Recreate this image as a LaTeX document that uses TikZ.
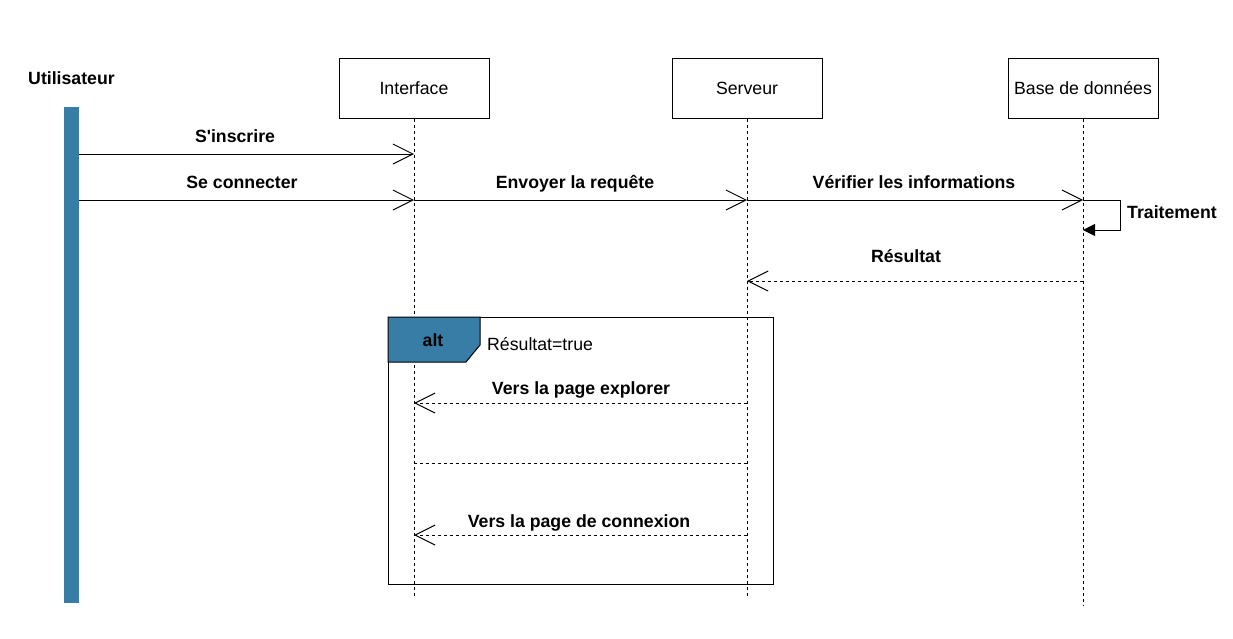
\documentclass[tikz,border=0pt]{standalone}
\usepackage{fontspec}
\setmainfont{Liberation Sans}[Ligatures=TeXOff]
\usetikzlibrary{arrows.meta}
\definecolor{actblue}{RGB}{55,125,165}
\begin{document}
\begin{tikzpicture}[x=1pt,y=-1pt,
  lbl/.style={font=\fontsize{17.7}{20}\selectfont\bfseries, inner sep=0pt, anchor=base},
  txt/.style={font=\fontsize{17.7}{20}\selectfont, inner sep=0pt},
  head/.style={draw, line width=1pt, minimum width=150pt, minimum height=60pt, inner sep=0pt, font=\fontsize{17.7}{20}\selectfont},
  life/.style={line width=1pt, dash pattern=on 3pt off 3pt},
  msg/.style={line width=1pt, -{Straight Barb[length=20pt,width=20pt]}},
  ret/.style={msg, dash pattern=on 3pt off 3pt}]
\useasboundingbox (0,0) rectangle (1233,638);
% actor
\node[lbl] (ulabel) at (71.5,84.5) {Utilisateur};
\node[fill=actblue, minimum width=15pt, minimum height=496pt, inner sep=0pt] (user) at (71.5,355) {};
% heads
\node[head] (int) at (414,88) {Interface};
\node[head] (srv) at (747,88) {Serveur};
\node[head] (db) at (1083,88) {Base de données};
\coordinate (intend) at (414,598);
\coordinate (srvend) at (747,598);
\coordinate (dbend) at (1083,605);
\draw[life] (int.south) -- (intend);
\draw[life] (srv.south) -- (srvend);
\draw[life] (db.south) -- (dbend);
% message points
\coordinate (u1) at (79,154);
\coordinate (i1) at (414,154);
\coordinate (u2) at (79,200);
\coordinate (i2) at (414,200);
\coordinate (s2) at (747,200);
\coordinate (d2) at (1083,200);
\coordinate (l1) at (1120,200);
\coordinate (l2) at (1120,230);
\coordinate (d3) at (1083,230);
\coordinate (d4) at (1083,281);
\coordinate (s4) at (747,281);
\coordinate (s5) at (747,403);
\coordinate (i5) at (414,403);
\coordinate (s6) at (747,463);
\coordinate (i6) at (414,463);
\coordinate (s7) at (747,535);
\coordinate (i7) at (414,535);
% messages
\draw[msg] (u1) -- (i1);
\node[lbl] (m1) at (235,142.5) {S'inscrire};
\draw[msg] (u2) -- (i2);
\node[lbl] (m2) at (242,188.5) {Se connecter};
\draw[msg] (i2) -- (s2);
\node[lbl] (m3) at (575,188.5) {Envoyer la requête};
\draw[msg] (s2) -- (d2);
\node[lbl] (m4) at (914,188.5) {Vérifier les informations};
\draw[line width=1pt, -{Triangle[length=12pt,width=12pt]}] (d2) -- (l1) -- (l2) -- (d3);
\node[lbl, anchor=base west] (m5) at (1127,218.5) {Traitement};
\draw[ret] (d4) -- (s4);
\node[lbl] (m6) at (906,262.5) {Résultat};
% alt frame
\draw[line width=1pt] (388,317) rectangle (773,584);
\filldraw[line width=1pt, fill=actblue] (388,317) -- (480,317) -- (480,345) -- (466,362) -- (388,362) -- cycle;
\node[lbl] (alt) at (433,346.5) {alt};
\node[txt, anchor=base west] (cond) at (487,350.5) {Résultat=true};
\draw[ret] (s5) -- (i5);
\node[lbl] (m7) at (581,394.5) {Vers la page explorer};
\draw[life] (i6) -- (s6);
\draw[ret] (s7) -- (i7);
\node[lbl] (m8) at (579,527.5) {Vers la page de connexion};
\end{tikzpicture}
\end{document}
